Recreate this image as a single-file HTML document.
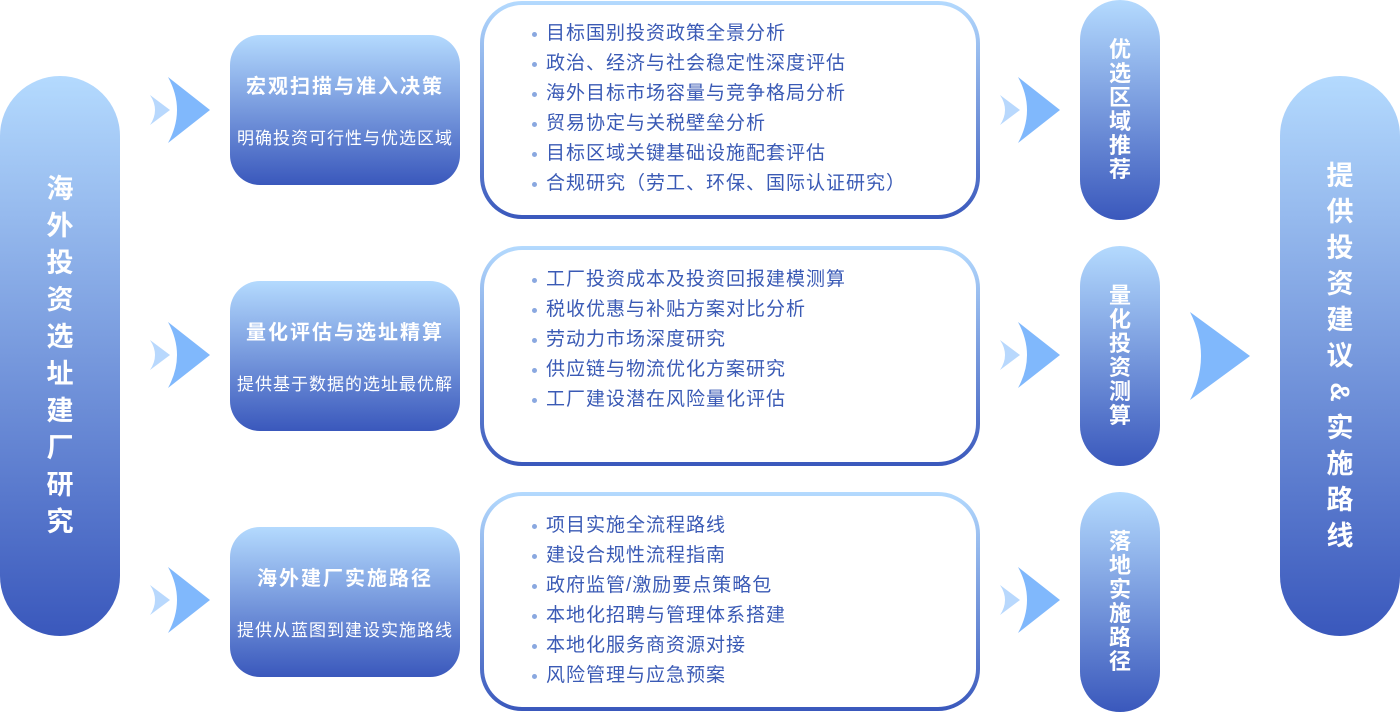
<!DOCTYPE html>
<html><head><meta charset="utf-8"><style>
*{margin:0;padding:0;box-sizing:border-box}
body{width:1400px;height:712px;background:#fff;position:relative;overflow:hidden;font-family:"Liberation Sans","Noto Sans CJK SC",sans-serif}
.g{background:linear-gradient(#b4dafe,#3a58bc);position:absolute}
.pill{border-radius:60px;color:#fff;font-weight:bold;display:flex;flex-direction:column;align-items:center;justify-content:center}
.box{border-radius:30px;width:230px;height:150px;left:230px;color:#fff;text-align:center}
.box .t{position:absolute;top:35px;width:100%;font-size:20px;letter-spacing:2px;font-weight:bold}
.box .s{position:absolute;top:89px;width:100%;font-size:17px;letter-spacing:1px}
.lst{position:absolute;left:480px;width:500px;border:4px solid transparent;border-radius:42px;background:linear-gradient(#fff,#fff) padding-box,linear-gradient(#b4dafe,#3a58bc) border-box}
.lst ul{list-style:none;padding:0 0 0 62px}
.lst li{font-size:19px;letter-spacing:1px;line-height:30px;color:#3a5ab5;position:relative}
.lst li:before{content:"";position:absolute;left:-14px;top:13px;width:5px;height:5px;border-radius:50%;background:#8aa8e0}
.sp{border-radius:40px;width:80px;left:1080px;height:220px;font-size:22px;line-height:24px;color:#fff;font-weight:bold;display:flex;flex-direction:column;align-items:center;justify-content:center}
svg.a{position:absolute}
</style></head><body>
<div class="g pill" style="left:0;top:76px;width:120px;height:560px;font-size:27px;line-height:37px">
<span>海</span><span>外</span><span>投</span><span>资</span><span>选</span><span>址</span><span>建</span><span>厂</span><span>研</span><span>究</span></div>
<div class="g pill" style="left:1280px;top:76px;width:120px;height:560px;font-size:27px;line-height:36px">
<span>提</span><span>供</span><span>投</span><span>资</span><span>建</span><span>议</span><span style="transform:rotate(90deg)">&amp;</span><span>实</span><span>施</span><span>路</span><span>线</span></div>

<svg class="a" style="left:0;top:0" width="1400" height="712">
<defs><g id="ar"><path d="M0,-15 L20,0 L0,15 Q10,0 0,-15Z" fill="#b8d8fd"/><path d="M18,-33 L60,0 L18,33 Q36,0 18,-33Z" fill="#80b8fc"/></g></defs>
<use href="#ar" x="150" y="110"/><use href="#ar" x="150" y="355"/><use href="#ar" x="150" y="600"/>
<use href="#ar" x="1000" y="110"/><use href="#ar" x="1000" y="355"/><use href="#ar" x="1000" y="600"/>
<path d="M1190,312 L1250,356 L1190,400 Q1212,356 1190,312Z" fill="#80b8fc"/>
</svg>

<div class="g box" style="top:35px"><div class="t">宏观扫描与准入决策</div><div class="s">明确投资可行性与优选区域</div></div>
<div class="g box" style="top:281px"><div class="t">量化评估与选址精算</div><div class="s">提供基于数据的选址最优解</div></div>
<div class="g box" style="top:527px"><div class="t">海外建厂实施路径</div><div class="s">提供从蓝图到建设实施路线</div></div>

<div class="lst" style="top:1px;height:218px"><ul style="padding-top:14px">
<li>目标国别投资政策全景分析</li><li>政治、经济与社会稳定性深度评估</li><li>海外目标市场容量与竞争格局分析</li><li>贸易协定与关税壁垒分析</li><li>目标区域关键基础设施配套评估</li><li>合规研究（劳工、环保、国际认证研究）</li></ul></div>
<div class="lst" style="top:246px;height:220px"><ul style="padding-top:15px">
<li>工厂投资成本及投资回报建模测算</li><li>税收优惠与补贴方案对比分析</li><li>劳动力市场深度研究</li><li>供应链与物流优化方案研究</li><li>工厂建设潜在风险量化评估</li></ul></div>
<div class="lst" style="top:492px;height:219px"><ul style="padding-top:15px">
<li>项目实施全流程路线</li><li>建设合规性流程指南</li><li>政府监管/激励要点策略包</li><li>本地化招聘与管理体系搭建</li><li>本地化服务商资源对接</li><li>风险管理与应急预案</li></ul></div>

<div class="g sp" style="top:0"><span>优</span><span>选</span><span>区</span><span>域</span><span>推</span><span>荐</span></div>
<div class="g sp" style="top:246px"><span>量</span><span>化</span><span>投</span><span>资</span><span>测</span><span>算</span></div>
<div class="g sp" style="top:492px"><span>落</span><span>地</span><span>实</span><span>施</span><span>路</span><span>径</span></div>
</body></html>
